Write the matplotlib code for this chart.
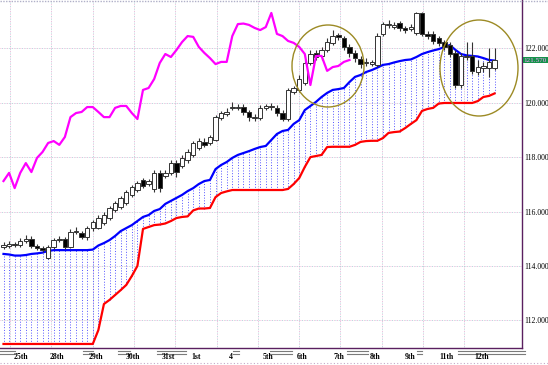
import numpy as np
import matplotlib
matplotlib.use('Agg')
import matplotlib.pyplot as plt
from matplotlib.patches import Ellipse, Rectangle

# H4 candles
opens = [114.70, 114.73, 114.81, 114.77, 114.92, 114.99, 114.73, 114.66, 114.29, 114.70,
         114.95, 114.99, 114.70, 115.25, 115.21, 115.06, 115.39, 115.39, 115.58, 115.76,
         116.05, 116.17, 116.31, 116.61, 116.79, 117.16, 117.01, 116.83, 117.42, 117.31,
         117.42, 117.78, 117.67, 117.89, 118.08, 118.33, 118.56, 118.52, 118.63, 119.44,
         119.59, 119.81, 119.81, 119.84, 119.66, 119.44, 119.44, 119.81, 119.84, 119.81,
         119.62, 119.40, 120.39, 120.47, 120.72, 121.46, 121.83, 121.72, 121.94, 122.20,
         122.49, 122.38, 122.05, 121.83, 121.61, 121.46, 121.42, 121.39, 122.53, 122.86,
         122.78, 122.93, 122.75, 122.71, 122.56, 123.30, 122.53, 122.53, 122.38, 122.23,
         122.12, 121.83, 120.65, 121.68, 121.72, 121.13, 121.28, 121.28, 121.28]
highs = [114.88, 114.92, 114.88, 115.03, 115.14, 115.10, 114.81, 114.73, 114.77, 115.03,
         115.10, 115.06, 115.36, 115.43, 115.28, 115.47, 115.69, 115.87, 115.98, 116.20,
         116.39, 116.57, 116.79, 116.97, 117.12, 117.23, 117.20, 117.53, 117.53, 117.53,
         117.89, 117.89, 118.08, 118.30, 118.59, 118.70, 118.70, 118.81, 119.55, 119.70,
         119.81, 120.03, 119.95, 119.95, 119.73, 119.59, 119.92, 119.95, 119.99, 119.92,
         119.73, 120.54, 120.61, 121.02, 121.57, 121.94, 121.94, 122.05, 122.38, 122.67,
         122.56, 122.45, 122.16, 121.94, 121.72, 121.64, 121.57, 122.56, 122.97, 123.04,
         122.97, 123.00, 122.82, 122.89, 123.34, 123.34, 122.64, 122.64, 122.45, 122.31,
         122.23, 121.94, 121.83, 122.23, 122.23, 121.57, 121.50, 122.01, 122.01]
lows = [114.62, 114.66, 114.70, 114.70, 114.84, 114.66, 114.58, 114.51, 114.25, 114.62,
        114.88, 114.62, 114.66, 115.17, 114.99, 114.95, 115.28, 115.36, 115.50, 115.69,
        115.98, 116.09, 116.24, 116.53, 116.72, 116.86, 116.94, 116.72, 116.72, 117.23,
        117.34, 117.27, 117.60, 117.78, 118.00, 118.26, 118.37, 118.45, 118.59, 119.36,
        119.51, 119.73, 119.73, 119.55, 119.33, 119.33, 119.36, 119.73, 119.73, 119.51,
        119.33, 119.33, 120.32, 120.39, 120.65, 121.39, 121.57, 121.57, 121.86, 122.12,
        122.31, 121.94, 121.68, 121.50, 121.28, 121.35, 121.35, 121.31, 122.45, 122.75,
        122.71, 122.64, 122.56, 122.64, 122.49, 122.45, 122.34, 122.16, 122.09, 121.94,
        121.68, 120.54, 120.54, 121.57, 121.06, 121.02, 121.13, 120.95, 121.20]
closes = [114.77, 114.81, 114.77, 114.92, 114.99, 114.73, 114.66, 114.58, 114.70, 114.95,
          114.99, 114.70, 115.25, 115.28, 115.06, 115.39, 115.61, 115.76, 115.87, 116.13,
          116.31, 116.50, 116.72, 116.90, 117.05, 116.94, 117.12, 117.42, 116.86, 117.42,
          117.78, 117.45, 117.97, 118.19, 118.52, 118.59, 118.45, 118.74, 119.47, 119.62,
          119.66, 119.84, 119.84, 119.66, 119.47, 119.47, 119.81, 119.88, 119.88, 119.62,
          119.40, 120.47, 120.54, 120.87, 121.46, 121.79, 121.68, 121.94, 122.23, 122.45,
          122.42, 122.05, 121.83, 121.64, 121.42, 121.50, 121.50, 122.45, 122.89, 122.91,
          122.86, 122.75, 122.67, 122.78, 123.30, 122.53, 122.45, 122.27, 122.20, 122.05,
          121.79, 120.65, 121.72, 121.72, 121.17, 121.31, 121.35, 121.50, 121.57]

# cloud spans (blue = span A, red = span B)
span_a = [114.44, 114.42, 114.38, 114.38, 114.40, 114.44, 114.46, 114.49, 114.55, 114.58,
          114.58, 114.58, 114.58, 114.58, 114.58, 114.58, 114.60, 114.75, 114.84, 114.95,
          115.10, 115.28, 115.39, 115.50, 115.65, 115.80, 115.87, 116.02, 116.09, 116.28,
          116.39, 116.50, 116.61, 116.75, 116.86, 117.01, 117.12, 117.16, 117.56, 117.71,
          117.82, 117.97, 118.08, 118.15, 118.22, 118.30, 118.37, 118.41, 118.63, 118.85,
          118.96, 119.00, 119.22, 119.36, 119.73, 119.88, 120.03, 120.21, 120.36, 120.47,
          120.50, 120.54, 120.76, 120.95, 121.02, 121.13, 121.20, 121.29, 121.39, 121.42,
          121.48, 121.53, 121.57, 121.59, 121.68, 121.79, 121.86, 121.92, 121.97, 122.05,
          122.12, 121.94, 121.79, 121.74, 121.72, 121.70, 121.64, 121.57, 121.55]
span_b = [111.13, 111.13, 111.13, 111.13, 111.13, 111.13, 111.13, 111.13, 111.13, 111.13,
          111.13, 111.13, 111.13, 111.13, 111.13, 111.13, 111.13, 111.64, 112.60, 112.75,
          112.93, 113.11, 113.30, 113.63, 114.00, 115.36, 115.43, 115.50, 115.52, 115.56,
          115.65, 115.76, 115.80, 115.82, 116.04, 116.11, 116.11, 116.13, 116.53, 116.68,
          116.74, 116.79, 116.79, 116.79, 116.79, 116.79, 116.79, 116.79, 116.79, 116.79,
          116.79, 116.83, 117.01, 117.23, 117.64, 118.00, 118.04, 118.08, 118.37, 118.38,
          118.38, 118.38, 118.38, 118.45, 118.56, 118.59, 118.60, 118.60, 118.70, 118.89,
          118.92, 118.94, 119.07, 119.22, 119.36, 119.70, 119.77, 119.81, 119.97, 119.99,
          119.99, 119.99, 119.99, 119.99, 119.99, 120.06, 120.21, 120.25, 120.34]

chikou_shift = 26
price_ticks = [112, 114, 116, 118, 120, 122]
date_labels = ['25th', '28th', '29th', '30th', '31st', '1st', '4', '5th',
               '6th', '7th', '8th', '9th', '11th', '12th']

W, H = 548, 365
x0, dx = 3.5, 5.58          # pixel of first bar, pixels per bar
p_top, px_per_unit = 123.776, 27.2


def px2idx(px):
    return (px - x0) / dx


fig = plt.figure(figsize=(W / 100, H / 100), dpi=100)
fig.patch.set_facecolor('white')
ax = fig.add_axes([0, 17 / H, 522 / W, 348 / H])
ax.set_xlim(px2idx(0), px2idx(522))
ax.set_ylim(p_top - 348 / px_per_unit, p_top)

idx = np.arange(len(closes))
a = np.array(span_a)
b = np.array(span_b)

# grid: dotted, alternating pink / teal dots
for y in price_ticks:
    ax.axhline(y, color='#eaa6d2', lw=0.6, ls=(0, (1, 3)), zorder=0)
    ax.axhline(y, color='#9fd0d0', lw=0.6, ls=(2, (1, 3)), zorder=0)
for gx in px2idx(10 + 41.3 * np.arange(12)):
    ax.axvline(gx, color='#eaa6d2', lw=0.6, ls=(0, (1, 3)), zorder=0)
    ax.axvline(gx, color='#9fd0d0', lw=0.6, ls=(2, (1, 3)), zorder=0)

# cloud hatch
ax.vlines(idx, np.minimum(a, b), np.maximum(a, b), colors='#5555ff',
          linestyles=(0, (1.0, 1.8)), lw=0.7, zorder=1)
ax.plot(idx, b, color='#ff0000', lw=1.6, zorder=3)
ax.plot(idx, a, color='#0000ff', lw=1.6, zorder=3)

# candles
for i in idx:
    o, h, l, c = opens[i], highs[i], lows[i], closes[i]
    ax.vlines(i, l, h, colors='#333333', lw=0.8, zorder=4)
    bottom = min(o, c)
    height = max(abs(c - o), 0.025)
    fc = 'white' if c >= o else 'black'
    ax.add_patch(Rectangle((i - 0.4, bottom), 0.8, height, facecolor=fc,
                           edgecolor='#333333', lw=0.7, zorder=5))

# chikou span: closes shifted back
ax.plot(idx[:-chikou_shift], closes[chikou_shift:], color='#ff00ff', lw=1.6, zorder=6)

# circled areas
for cx, cy, w, h in [(328, 66, 72, 82), (479, 68, 78, 96)]:
    ax.add_patch(Ellipse((px2idx(cx), p_top - cy / px_per_unit), w / dx, h / px_per_unit,
                         fill=False, edgecolor='#9c8a24', lw=1.0, zorder=7))

# axes frame
for s in ['top', 'left']:
    ax.spines[s].set_visible(False)
for s in ['right', 'bottom']:
    ax.spines[s].set_color('#5a2060')
    ax.spines[s].set_linewidth(1.0)
ax.set_xticks([])
ax.yaxis.tick_right()
ax.set_yticks(price_ticks)
ax.set_yticklabels(['%.3f' % t for t in price_ticks], fontsize=5.6,
                   family='Liberation Serif')
ax.tick_params(axis='y', length=0, pad=1.5)

# current price tag
ax.annotate('%.3f' % closes[-1], xy=(1.0, closes[-1]), xycoords=('axes fraction', 'data'),
            xytext=(1.2, 0), textcoords='offset points', va='center', ha='left',
            fontsize=5.1, family='Liberation Serif', color='#ff9cff',
            bbox=dict(boxstyle='square,pad=0.12', fc='#15924a', ec='none'),
            annotation_clip=False)

# date scale
date_px = [21, 57, 96, 133, 168, 196, 231, 268, 302, 339, 375, 410, 446, 482]
for lab, px in zip(date_labels, date_px):
    fig.text(px / W, 1 - 357 / H, lab, fontsize=5.6, family='Liberation Serif',
             fontweight='bold', ha='center', va='center')
for s0, s1 in [(0, 15), (83, 93), (118, 130), (157, 186), (233, 239), (270, 292),
               (347, 368), (417, 422), (458, 525)]:
    for yy in (350.5, 353.5):
        fig.add_artist(plt.Line2D([s0 / W, s1 / W], [1 - yy / H, 1 - yy / H],
                                  color='#7a7a7a', lw=0.8))
fig.add_artist(plt.Line2D([0, 1], [1 - 363 / H, 1 - 363 / H], color='#c8a8c8',
                          lw=0.8, ls=(0, (1, 2))))
fig.add_artist(plt.Line2D([0, 1], [1 - 1 / H, 1 - 1 / H], color='#b0b0c8',
                          lw=1.0, ls=(0, (1, 1))))

fig.savefig('out.png', dpi=100)
